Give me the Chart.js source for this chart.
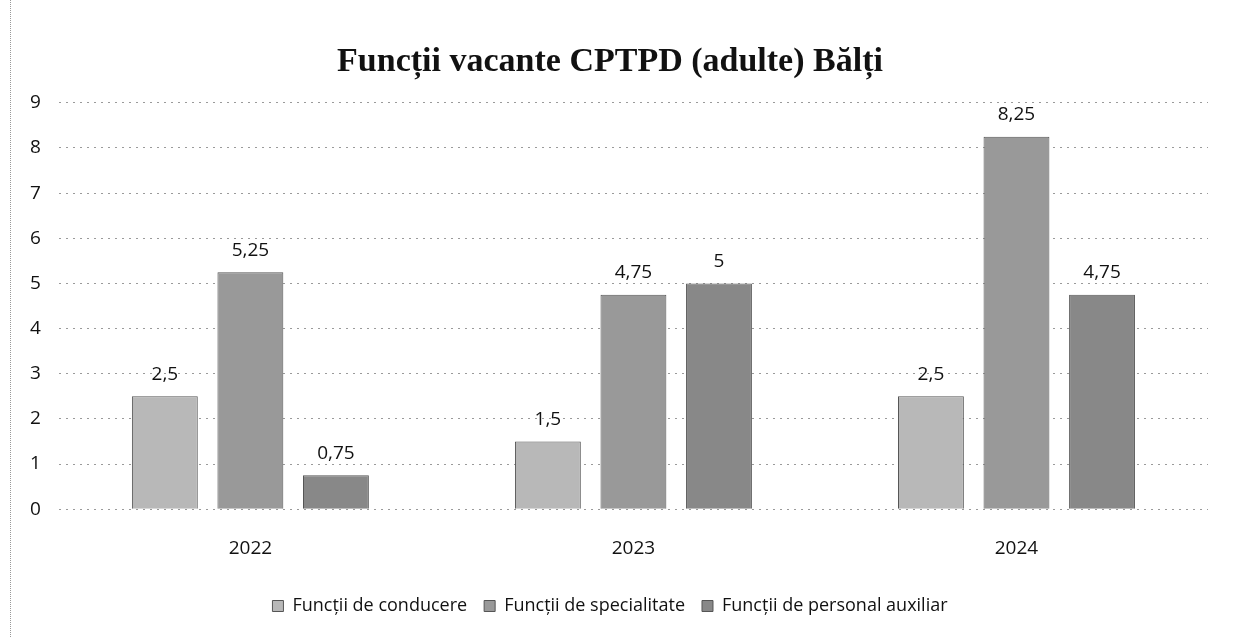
<!DOCTYPE html>
<html>
<head>
<meta charset="utf-8">
<script src="https://cdn.jsdelivr.net/npm/chart.js@4/dist/chart.umd.min.js"></script>
<style>
  html, body { margin: 0; padding: 0; background: #fff; }
  #wrap { width: 1248px; height: 637px; position: relative; }
  #frame { position: absolute; left: 10px; top: 0; height: 637px; border-left: 1px dotted #999; }
</style>
</head>
<body>
<div id="wrap">
  <div id="frame"></div>
  <canvas id="chart" width="1248" height="637"></canvas>
</div>
<script>
const years = ['2022', '2023', '2024'];
const seriesNames = ['Funcții de conducere', 'Funcții de specialitate', 'Funcții de personal auxiliar'];
const conducere = [2.5, 1.5, 2.5];
const specialitate = [5.25, 4.75, 8.25];
const auxiliar = [0.75, 5, 4.75];
const yTicks = [0, 1, 2, 3, 4, 5, 6, 7, 8, 9];

const fills = ['#b8b8b8', '#999999', '#888888'];

// value labels above each bar, with comma decimals
const barLabels = {
    id: 'barLabels',
    afterDatasetsDraw(chart) {
        const ctx = chart.ctx;
        ctx.save();
        ctx.font = '19px "Open Sans"';
        ctx.fillStyle = '#111';
        ctx.textAlign = 'center';
        ctx.textBaseline = 'middle';
        chart.data.datasets.forEach((ds, i) => {
            chart.getDatasetMeta(i).data.forEach((bar, j) => {
                ctx.fillText(String(ds.data[j]).replace('.', ','), bar.x, bar.y - 22);
            });
        });
        ctx.restore();
    }
};

new Chart(document.getElementById('chart'), {
    type: 'bar',
    data: {
        labels: years,
        datasets: [conducere, specialitate, auxiliar].map((d, i) => ({
            label: seriesNames[i],
            data: d,
            backgroundColor: fills[i],
            borderColor: '#555',
            borderWidth: 1,
            barPercentage: 0.77,
            categoryPercentage: 0.67
        }))
    },
    options: {
        responsive: false,
        animation: false,
        layout: { padding: { left: 12, right: 40, top: 0, bottom: 12 } },
        scales: {
            x: {
                grid: { display: false },
                border: { display: false },
                ticks: { color: '#111', font: { family: 'Open Sans', size: 19 }, padding: 20 }
            },
            y: {
                min: 0,
                max: 9,
                afterBuildTicks: axis => { axis.ticks = yTicks.map(v => ({ value: v })); },
                grid: { color: '#9a9a9a', lineWidth: 1, drawTicks: false },
                border: { display: false, dash: [2, 5] },
                ticks: { color: '#111', font: { family: 'Open Sans', size: 19 }, padding: 18 }
            }
        },
        plugins: {
            title: {
                display: true,
                text: 'Funcții vacante CPTPD (adulte) Bălți',
                color: '#111',
                font: { family: 'Liberation Serif', size: 34, weight: 'bold' },
                padding: { top: 42, bottom: 20 }
            },
            legend: {
                position: 'bottom',
                labels: {
                    color: '#111',
                    font: { family: 'Open Sans', size: 18 },
                    boxWidth: 11,
                    boxHeight: 11,
                    padding: 17
                }
            },
            tooltip: { enabled: false }
        }
    },
    plugins: [barLabels]
});
</script>
</body>
</html>
